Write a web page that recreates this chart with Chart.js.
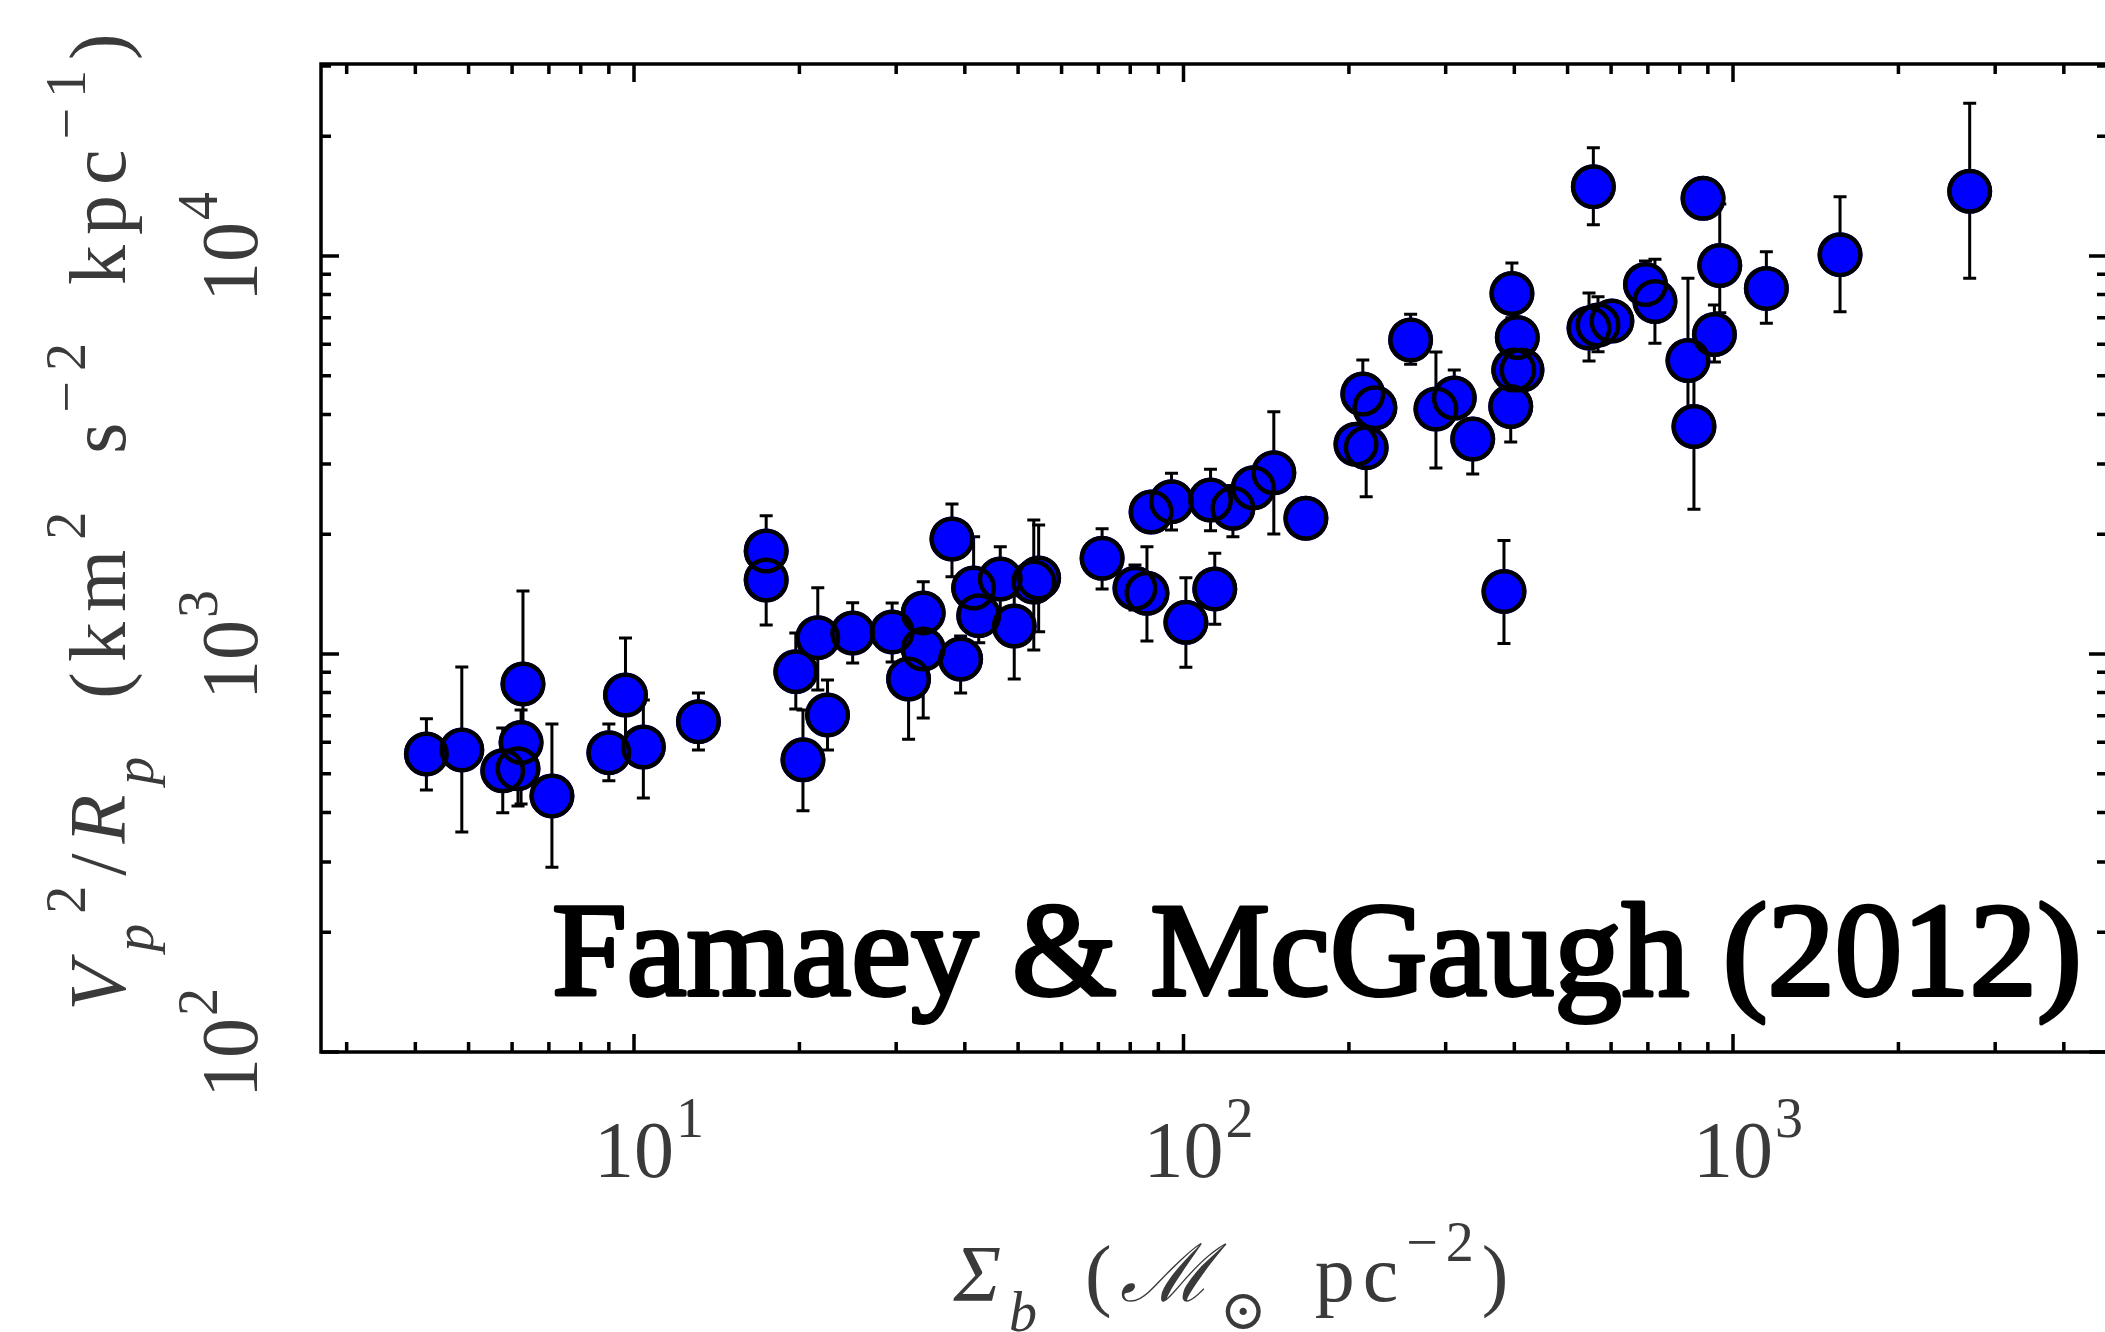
<!DOCTYPE html>
<html>
<head>
<meta charset="utf-8">
<script src="https://cdn.jsdelivr.net/npm/chart.js@4.4.1/dist/chart.umd.min.js"></script>
<style>
html, body { margin: 0; padding: 0; background: #fff; overflow: hidden; }
#wrap { position: absolute; left: 0; top: 0; width: 2110px; height: 1332px; }
</style>
</head>
<body>
<div id="wrap"><canvas id="accChart" width="2110" height="1332"></canvas></div>
<script>
// Baryonic surface density Sigma_b (Msun pc^-2)
const sigmaB = [4.19, 4.86, 5.77, 6.15, 6.23, 6.28, 7.09, 9.00, 9.65, 10.4,
                13.1, 17.4, 17.4, 19.7, 20.3, 21.6, 22.5, 25.0, 29.5, 33.6,
                33.6, 31.6, 37.9, 39.3, 41.5, 42.4, 46.4, 49.2, 53.4, 54.5,
                71.1, 81.6, 85.8, 101, 114, 87.3, 95.1, 112, 123, 134,
                146, 167, 212, 223, 206, 215, 259, 288, 311, 336,
                396, 405, 399, 413, 394, 383, 547, 568, 602, 693,
                721, 946, 925, 828, 849, 1150, 557, 882, 1566, 2696];

// Vp^2/Rp (km^2 s^-2 kpc^-1)
const accel = [561, 574, 509, 515, 599, 841, 440, 565, 789, 584,
               676, 1815, 1534, 903, 542, 1099, 703, 1129, 1136, 1268,
               1029, 865, 1945, 971, 1465, 1248, 1543, 1176, 1517, 1552,
               1740, 1463, 1421, 1201, 1457, 2274, 2414, 2437, 2323, 2617,
               2854, 2193, 4501, 4157, 3365, 3299, 6152, 4127, 4398, 3469,
               8050, 6240, 5171, 5171, 4187, 1436, 6594, 6709, 6866, 8480,
               7687, 9465, 6349, 5463, 3729, 8290, 14935, 13960, 10076, 14540];

// upper / lower ends of the error bars (null = none visible)
const errHi = [688, 928, 652, 608, 723, 1440, 667, 667, 1097, 766,
               798, 2226, 1879, 1129, 723, 1467, 860, 1345, 1343, 1520,
               1350, 1100, 2382, 1110, 1971, 1450, 1860, 1400, 2171, 2109,
               2064, 1673, 1860, 1555, 1791, null, 2844, 2912, 2650, null,
               4063, null, 5479, null, null, 4000, 7136, 5739, 5171, 3900,
               9603, null, null, null, 5000, 1928, 8072, 7902, null, 9714,
               9811, 13510, 7533, 8790, 5000, 10250, 18720, null, 14090, 24190];
const errLo = [455, 357, 399, 415, 420, 610, 291, 480, 591, 435,
               574, 1530, 1183, 728, 404, 812, 574, 949, 955, 1084,
               691, 611, 1564, 798, 1250, 1068, 1300, 865, 1023, 1138,
               1457, 1290, 1078, 926, 1187, null, 2049, 2041, 1971, null,
               2002, null, 3800, null, null, 2484, 5345, 2933, 3900, 2833,
               7000, null, null, null, 3410, 1063, 5447, 5748, null, 7500,
               6035, 7200, 5416, 3700, 2309, 6775, 11980, null, 7244, 8790];

// labelled decades
const xTicks = [10, 100, 1000];
const yTicks = [100, 1000, 10000];

const xRange = [2.694, 4793];
const yRange = [100, 30370];

const credit = { text: 'Famaey & McGaugh (2012)', x: 7.03, y: 139 };

const FONT = '"Liberation Serif", "DejaVu Serif", serif';
const TXT = '#3a3a3a';

const points = sigmaB.map((x, i) => ({ x: x, y: accel[i] }));

function segFont(s) { return (s.it ? 'italic ' : '') + s.size + 'px ' + FONT; }

function richWidth(ctx, segs, track) {
    let w = 0;
    segs.forEach(s => {
        w += (s.gap || 0);
        ctx.font = segFont(s);
        for (const ch of s.t) w += ctx.measureText(ch).width + track;
    });
    return w - track;
}

function drawRich(ctx, segs, cx, y, track) {
    let x = cx - richWidth(ctx, segs, track) / 2;
    segs.forEach(s => {
        x += (s.gap || 0);
        ctx.font = segFont(s);
        for (const ch of s.t) {
            ctx.fillText(ch, x, y + (s.dy || 0));
            x += ctx.measureText(ch).width + track;
        }
    });
}

// minor + major tick values of a log axis
function logTicks(min, max) {
    const out = [];
    for (let e = Math.floor(Math.log10(min)); e <= Math.ceil(Math.log10(max)); e++) {
        for (let m = 1; m <= 9; m++) {
            const v = m * Math.pow(10, e);
            if (v >= min && v <= max) out.push({ v: v, major: m === 1 });
        }
    }
    return out;
}

const SUP = { size: 56, dy: -40 };
const SUB = { size: 56, dy: 28 };

const xTitle = [
    { t: 'Σ', size: 80, it: true },
    { t: 'b', size: SUB.size, dy: SUB.dy + 2, it: true },
    { t: '(', size: 80, gap: 40 },
    { t: 'ℳ', size: 80, it: true },
    { t: '⊙', size: SUB.size, dy: SUB.dy },
    { t: 'pc', size: 80, gap: 40 },
    { t: '−2', size: SUP.size, dy: SUP.dy },
    { t: ')', size: 80 }
];

const yTitle = [
    { t: 'V', size: 80, it: true },
    { t: 'p', size: SUB.size, dy: SUB.dy, it: true },
    { t: '2', size: SUP.size, dy: SUP.dy },
    { t: '/', size: 80 },
    { t: 'R', size: 80, it: true },
    { t: 'p', size: SUB.size, dy: SUB.dy, it: true },
    { t: '(', size: 80, gap: 48 },
    { t: 'km', size: 80 },
    { t: '2', size: SUP.size, dy: SUP.dy },
    { t: 's', size: 80, gap: 48 },
    { t: '−2', size: SUP.size, dy: SUP.dy },
    { t: 'kpc', size: 80, gap: 48 },
    { t: '−1', size: SUP.size, dy: SUP.dy },
    { t: ')', size: 80 }
];

const errorBars = {
    id: 'errorBars',
    beforeDatasetsDraw(chart) {
        const ctx = chart.ctx, xs = chart.scales.x, ys = chart.scales.y;
        ctx.save();
        ctx.strokeStyle = '#000';
        ctx.lineWidth = 3;
        sigmaB.forEach((v, i) => {
            if (errHi[i] == null && errLo[i] == null) return;
            const px = xs.getPixelForValue(v);
            const top = ys.getPixelForValue(errHi[i] != null ? errHi[i] : accel[i]);
            const bot = ys.getPixelForValue(errLo[i] != null ? errLo[i] : accel[i]);
            ctx.beginPath();
            ctx.moveTo(px, top); ctx.lineTo(px, bot);
            if (errHi[i] != null) { ctx.moveTo(px - 6.5, top); ctx.lineTo(px + 6.5, top); }
            if (errLo[i] != null) { ctx.moveTo(px - 6.5, bot); ctx.lineTo(px + 6.5, bot); }
            ctx.stroke();
        });
        ctx.restore();
    }
};

const frameAndText = {
    id: 'frameAndText',
    afterDraw(chart) {
        const ctx = chart.ctx, xs = chart.scales.x, ys = chart.scales.y;
        const a = chart.chartArea;
        ctx.save();
        ctx.strokeStyle = '#000';
        ctx.lineWidth = 3.5;
        ctx.strokeRect(a.left, a.top, a.right - a.left, a.bottom - a.top);
        ctx.beginPath();
        logTicks(xRange[0], xRange[1]).forEach(t => {
            const px = xs.getPixelForValue(t.v), len = t.major ? 18 : 10;
            ctx.moveTo(px, a.bottom); ctx.lineTo(px, a.bottom - len);
            ctx.moveTo(px, a.top); ctx.lineTo(px, a.top + len);
        });
        logTicks(yRange[0], yRange[1]).forEach(t => {
            const py = ys.getPixelForValue(t.v), len = t.major ? 18 : 10;
            ctx.moveTo(a.left, py); ctx.lineTo(a.left + len, py);
            ctx.moveTo(a.right, py); ctx.lineTo(a.right - len, py);
        });
        ctx.stroke();

        // tick labels 10^n
        ctx.fillStyle = TXT;
        ctx.textBaseline = 'alphabetic';
        ctx.textAlign = 'left';
        xTicks.forEach(v => {
            const px = xs.getPixelForValue(v);
            const e = String(Math.round(Math.log10(v)));
            ctx.font = '80px ' + FONT;
            const w = ctx.measureText('10').width;
            ctx.fillText('10', px - w / 2, a.bottom + 125);
            ctx.font = SUP.size + 'px ' + FONT;
            ctx.fillText(e, px + w / 2 + 2, a.bottom + 125 + SUP.dy);
        });
        yTicks.forEach(v => {
            const py = ys.getPixelForValue(v);
            const e = String(Math.round(Math.log10(v)));
            ctx.save();
            ctx.translate(a.left - 64, py);
            ctx.rotate(-Math.PI / 2);
            ctx.font = '80px ' + FONT;
            const w = ctx.measureText('10').width;
            ctx.fillText('10', -6 - w / 2, 0);
            ctx.font = SUP.size + 'px ' + FONT;
            ctx.fillText(e, -6 + w / 2 + 2, SUP.dy);
            ctx.restore();
        });

        // axis titles
        drawRich(ctx, xTitle, 1231, 1301, 8);
        ctx.save();
        ctx.translate(125, 522);
        ctx.rotate(-Math.PI / 2);
        drawRich(ctx, yTitle, 0, 0, 10);
        ctx.restore();

        // credit line, sized to the width it has in the original
        ctx.fillStyle = '#000';
        ctx.strokeStyle = '#000';
        ctx.lineWidth = 4;
        ctx.lineJoin = 'round';
        ctx.font = '100px ' + FONT;
        const size = 100 * 1530 / ctx.measureText(credit.text).width;
        const sy = 88 / (0.66 * size);
        ctx.font = size.toFixed(1) + 'px ' + FONT;
        ctx.save();
        ctx.translate(xs.getPixelForValue(credit.x) + 2, ys.getPixelForValue(credit.y));
        ctx.scale(1, sy);
        ctx.fillText(credit.text, 0, 0);
        ctx.strokeText(credit.text, 0, 0);
        ctx.restore();
        ctx.restore();
    }
};

new Chart(document.getElementById('accChart'), {
    type: 'scatter',
    data: {
        datasets: [{
            label: 'outline',
            data: points,
            order: 1,
            pointRadius: 20.25,
            pointBackgroundColor: 'rgba(0,0,0,0)',
            pointBorderColor: '#000',
            pointBorderWidth: 4.5,
            clip: false
        }, {
            label: 'fill',
            data: points,
            order: 2,
            pointRadius: 22.5,
            pointBackgroundColor: '#0000ff',
            pointBorderWidth: 0,
            clip: false
        }]
    },
    options: {
        responsive: false,
        devicePixelRatio: 1,
        animation: false,
        layout: { autoPadding: false, padding: { left: 321, top: 64, right: 3, bottom: 280 } },
        scales: {
            x: { type: 'logarithmic', min: xRange[0], max: xRange[1], display: false, bounds: 'data' },
            y: { type: 'logarithmic', min: yRange[0], max: yRange[1], display: false, bounds: 'data' }
        },
        plugins: { legend: { display: false }, tooltip: { enabled: false } }
    },
    plugins: [errorBars, frameAndText]
});
</script>
</body>
</html>
